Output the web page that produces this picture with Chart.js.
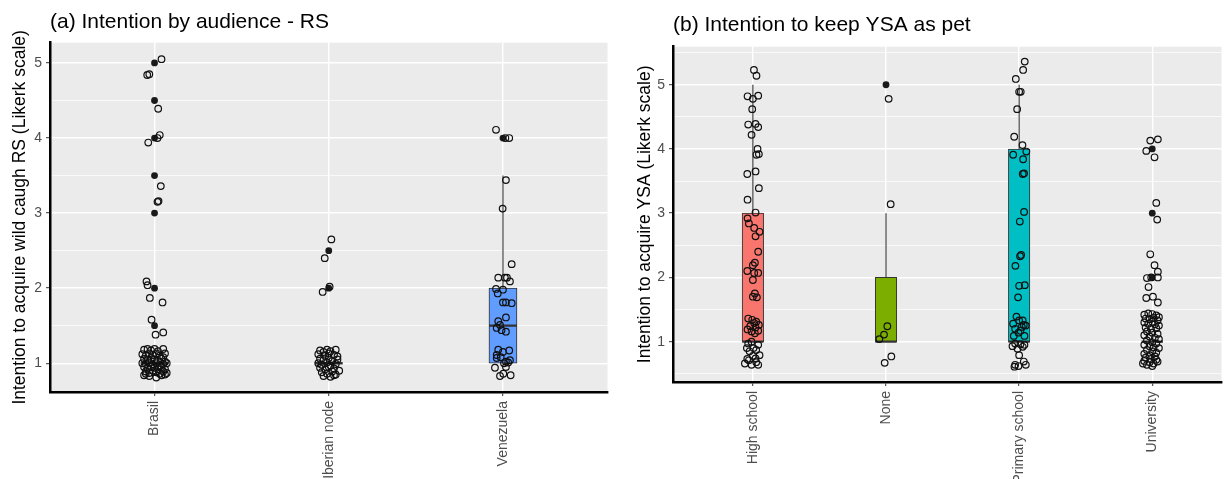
<!DOCTYPE html>
<html><head><meta charset="utf-8">
<script src="https://cdn.jsdelivr.net/npm/chart.js@4.4.0/dist/chart.umd.min.js"></script>
<style>
html,body{margin:0;padding:0;background:#fff;width:1226px;height:479px;overflow:hidden;}
canvas{position:absolute;top:0;}
</style></head><body>
<canvas id="ca" width="612" height="479" style="left:0px"></canvas>
<canvas id="cb" width="603" height="479" style="left:623px"></canvas>
<script>
// ---------- Panel (a): Intention by audience - RS ----------
const audienceCats = ['Brasil', 'Iberian node', 'Venezuela'];
const audienceQ1 = [1, 1, 1];
const audienceMedian = [1, 1, 1.5];
const audienceQ3 = [1, 1, 2];
const audienceWhiskerLo = [1, 1, 1];
const audienceWhiskerHi = [1, 1, 3.5];
const audienceOutliers = [
  [5, 4.5, 4, 3.5, 3, 2, 1.5],
  [2.5, 2],
  [4]
];
// jittered observations: [horizontal jitter (category units), value]
const brasilPts = [
  [0.04,5.05],[-0.042,4.84],[-0.03,4.85],[0.021,4.39],[0.03,4.04],[0.017,4.0],[-0.036,3.94],
  [0.036,3.36],[0.017,3.15],[0.023,3.16],[-0.046,2.09],[-0.04,2.04],[-0.027,1.87],[0.046,1.81],
  [-0.017,1.58],[0.006,1.38],[0.05,1.41],
  [-0.06,1.18],[-0.04,1.19],[-0.02,1.17],[0.0,1.19],[0.02,1.16],[0.05,1.19],[0.06,1.13],[-0.07,1.12],
  [-0.05,1.10],[-0.03,1.13],[-0.01,1.11],[0.01,1.13],[0.03,1.10],[0.05,1.08],[-0.06,1.06],[-0.04,1.04],
  [-0.02,1.07],[0.0,1.05],[0.02,1.03],[0.04,1.06],[0.06,1.02],[-0.07,1.0],[-0.05,0.99],[-0.03,1.01],
  [-0.01,0.98],[0.01,1.0],[0.03,0.97],[0.05,0.99],[0.07,1.0],[-0.06,0.95],[-0.04,0.93],[-0.02,0.96],
  [0.0,0.94],[0.02,0.92],[0.04,0.95],[0.06,0.92],[-0.05,0.89],[-0.03,0.87],[-0.01,0.9],[0.01,0.88],
  [0.03,0.86],[0.05,0.89],[0.07,0.87],[-0.06,0.84],[-0.03,0.83],[0.01,0.81],[0.04,0.84],[0.06,0.85],
  [-0.05,0.86],[0.02,0.96]
];
const iberianPts = [
  [0.015,2.65],[-0.023,2.40],[0.005,2.02],[-0.035,1.95],
  [-0.05,1.17],[-0.03,1.15],[-0.01,1.18],[0.01,1.16],[0.04,1.18],[-0.06,1.12],[-0.02,1.1],[0.0,1.13],
  [0.03,1.11],[0.05,1.09],[-0.05,1.06],[-0.03,1.04],[0.0,1.07],[0.02,1.03],[0.05,1.05],[-0.06,1.0],
  [-0.04,0.98],[-0.01,1.01],[0.01,0.97],[0.04,0.99],[-0.05,0.94],[-0.02,0.92],[0.0,0.95],[0.03,0.93],
  [0.06,0.9],[-0.04,0.88],[-0.01,0.86],[0.02,0.89],[0.04,0.85],[-0.03,0.83],[0.01,0.82],[0.03,0.84]
];
const venezuelaPts = [
  [-0.04,4.11],[0.014,4.0],[0.036,4.0],[0.017,3.44],[-0.002,3.06],[0.05,2.32],
  [-0.027,2.14],[0.011,2.14],[0.023,2.14],[0.04,2.09],[-0.04,1.99],[0.0,1.98],[-0.03,1.93],
  [0.0,1.81],[0.017,1.81],[0.05,1.8],
  [0.017,1.61],[-0.027,1.56],[-0.017,1.51],[-0.036,1.47],[-0.008,1.44],[0.017,1.42],
  [-0.027,1.18],[0.0,1.15],[0.036,1.17],[-0.036,1.11],[-0.013,1.08],[0.04,1.04],[0.017,1.02],
  [-0.036,1.07],[0.006,1.0],[0.03,1.01],[-0.046,0.94],[0.017,0.95],[-0.017,0.83],[0.002,0.86],[0.044,0.84]
];
const audiencePts = [brasilPts, iberianPts, venezuelaPts];
const audienceYTicks = [0.5, 1, 1.5, 2, 2.5, 3, 3.5, 4, 4.5, 5, 5.5];

// ---------- Panel (b): Intention to keep YSA as pet ----------
const educationCats = ['High school', 'None', 'Primary school', 'University'];
const educationQ1 = [1, 1, 1, 1];
const educationMedian = [1, 1, 1, 1];
const educationQ3 = [3, 2, 4, 1];
const educationWhiskerLo = [1, 1, 1, 1];
const educationWhiskerHi = [5, 3, 5, 1];
const educationOutliers = [
  [],
  [5],
  [],
  [4, 3, 2]
];
const highSchoolPts = [
  [0.008,5.23],[0.027,5.14],[-0.04,4.82],[0.04,4.83],[0.0,4.78],[-0.005,4.62],[-0.035,4.38],[0.02,4.39],
  [0.04,4.34],[-0.01,4.22],[0.035,4.0],[0.045,3.92],[0.027,3.91],[-0.042,3.61],[0.02,3.65],[0.045,3.39],
  [-0.04,3.21],[0.02,3.01],[-0.04,2.92],[-0.03,2.84],[0.01,2.77],[0.05,2.71],[0.02,2.64],[0.04,2.4],
  [0.015,2.23],[0.0,2.19],[-0.042,2.1],[0.01,2.07],[0.04,2.07],[0.0,1.96],[0.015,1.75],[0.0,1.7],
  [0.03,1.69],[-0.035,1.36],[-0.005,1.34],[0.025,1.31],[0.045,1.26],[0.01,1.29],[-0.02,1.24],[0.02,1.22],
  [-0.04,1.19],[0.04,1.17],[-0.01,1.16],[0.015,1.13],[-0.035,0.97],[-0.01,1.0],[0.04,0.95],[-0.045,0.9],
  [-0.025,0.85],[0.025,0.87],[0.05,0.79],[0.0,0.78],[-0.042,0.73],[0.02,0.74],[-0.06,0.66],[-0.01,0.64],
  [0.04,0.64],[-0.03,0.71],[0.005,0.9],[0.025,0.68]
];
const nonePts = [
  [0.02,4.78],[0.035,3.14],[0.01,1.24],[-0.015,1.11],[-0.05,1.04],[-0.01,0.67],[0.04,0.77]
];
const primaryPts = [
  [0.042,5.36],[0.03,5.23],[-0.025,5.09],[0.0,4.89],[0.012,4.89],[-0.015,4.62],[-0.037,4.19],[0.025,4.06],
  [-0.045,3.91],[0.054,3.96],[0.03,3.84],[0.037,3.62],[0.027,3.61],[0.037,3.02],[0.005,2.87],[0.015,2.35],
  [0.007,2.33],[-0.028,2.18],[0.0,1.87],[0.042,1.88],[-0.008,1.69],
  [-0.02,1.39],[0.0,1.33],[-0.045,1.28],[0.035,1.26],[0.02,1.23],[-0.03,1.2],[0.05,1.25],[-0.005,1.14],
  [0.04,1.09],[-0.04,1.09],[0.01,1.17],[0.027,1.33],
  [-0.03,0.97],[0.01,0.96],[0.04,0.95],[-0.05,0.93],[-0.012,0.89],[0.027,0.92],[0.0,0.79],[-0.03,0.64],
  [0.035,0.69],[0.05,0.64],[-0.005,0.62],[-0.035,0.61]
];
const universityPts = [
  [-0.015,4.13],[0.042,4.15],[-0.045,3.97],[0.017,3.87],[0.03,3.16],[0.037,2.9],[-0.015,2.36],[0.017,2.19],
  [0.042,2.09],[-0.04,1.99],[-0.008,2.0],[0.042,2.0],[-0.028,1.85],[-0.045,1.68],[0.005,1.70],[0.042,1.61],
  [-0.06,1.42],[-0.03,1.44],[0.0,1.43],[0.03,1.41],[0.05,1.38],[-0.05,1.36],[-0.02,1.35],[0.01,1.37],
  [0.04,1.33],[-0.06,1.3],[-0.03,1.28],[0.0,1.31],[0.02,1.27],[0.05,1.25],[-0.05,1.22],[-0.01,1.2],
  [0.03,1.21],[-0.04,1.16],[0.0,1.14],[0.04,1.12],[-0.06,1.1],[-0.02,1.08],[0.02,1.06],[0.05,1.04],
  [-0.04,1.02],[0.0,0.99],[0.03,0.97],[-0.06,0.95],[-0.02,0.93],[0.01,0.91],[0.05,0.9],[-0.04,0.87],
  [0.0,0.85],[0.03,0.83],[-0.06,0.81],[-0.02,0.79],[0.02,0.77],[-0.05,0.75],[-0.01,0.73],[0.03,0.72],
  [-0.06,0.7],[-0.02,0.68],[0.01,0.66],[-0.04,0.64],[0.0,0.62],[-0.07,0.66],[0.04,0.69]
];
const educationPts = [highSchoolPts, nonePts, primaryPts, universityPts];
const educationYTicks = [0.5, 1, 1.5, 2, 2.5, 3, 3.5, 4, 4.5, 5, 5.5];

// ---------- styling ----------
Chart.defaults.font.family = "'Liberation Sans', Arial, Helvetica, sans-serif";
const BOX_HALF = 0.08;

const panelBg = {
  id: 'panelBg',
  beforeDraw(chart) {
    const a = chart.chartArea, ctx = chart.ctx;
    ctx.save();
    ctx.fillStyle = '#EBEBEB';
    ctx.fillRect(a.left, a.top, a.right - a.left, a.bottom - a.top);
    ctx.restore();
  }
};

function buildPanel(p) {
  const ds = [];
  ds.push({
    type: 'scatter', order: 0,
    data: p.cats.flatMap((c, i) => p.pts[i].map(([dx, y]) => ({ x: i + dx, y }))),
    pointRadius: 3.3, pointHoverRadius: 3.3, pointBorderWidth: 1.2,
    borderColor: '#111', backgroundColor: 'rgba(0,0,0,0)'
  });
  ds.push({
    type: 'scatter', order: 1,
    data: p.cats.flatMap((c, i) => p.outliers[i].map(y => ({ x: i, y }))),
    pointRadius: 3.4, pointHoverRadius: 3.4, pointBorderWidth: 0,
    borderColor: '#000', backgroundColor: '#1a1a1a'
  });
  p.cats.forEach((c, i) => {
    ds.push({
      type: 'scatter', order: 2, showLine: true,
      data: [{ x: i - BOX_HALF, y: p.med[i] }, { x: i + BOX_HALF, y: p.med[i] }],
      borderColor: '#333', borderWidth: 2.3, pointRadius: 0
    });
  });
  ds.push({
    type: 'bar', order: 3,
    data: p.cats.map((c, i) => ({ x: i, y: [p.q1[i], p.q3[i]] })),
    backgroundColor: p.fills, borderColor: '#333', borderWidth: 1,
    borderSkipped: false, barThickness: p.boxPx, grouped: false
  });
  p.cats.forEach((c, i) => {
    ds.push({
      type: 'scatter', order: 4, showLine: true,
      data: [{ x: i, y: p.q3[i] }, { x: i, y: p.hi[i] }],
      borderColor: '#333', borderWidth: 1.1, pointRadius: 0
    });
    ds.push({
      type: 'scatter', order: 4, showLine: true,
      data: [{ x: i, y: p.q1[i] }, { x: i, y: p.lo[i] }],
      borderColor: '#333', borderWidth: 1.1, pointRadius: 0
    });
  });

  new Chart(document.getElementById(p.id), {
    type: 'scatter',
    data: { datasets: ds },
    plugins: [panelBg],
    options: {
      responsive: false, animation: false, events: [],
      layout: { padding: { left: 0, right: p.padRight, top: 0, bottom: 0 } },
      plugins: {
        legend: { display: false }, tooltip: { enabled: false },
        title: {
          display: true, text: p.title, align: 'start', fullSize: false,
          color: '#000', font: { size: 21, weight: 'normal' },
          padding: { top: p.titleTop, bottom: p.titleBottom }
        }
      },
      scales: {
        x: {
          type: 'linear', min: -0.6, max: p.xMax, offset: false,
          afterBuildTicks: s => { s.ticks = p.cats.map((c, i) => ({ value: i })); },
          afterFit: s => { s.height = p.xAxisH; },
          ticks: {
            autoSkip: false, minRotation: 90, maxRotation: 90, padding: 5,
            color: '#4D4D4D', font: { size: 14 },
            callback: v => p.cats[v]
          },
          grid: { offset: false, color: '#FFFFFF', lineWidth: 1.4, tickColor: '#333', tickLength: 4, tickWidth: 1 },
          border: { display: true, color: '#000', width: 2.5 }
        },
        y: {
          type: 'linear', min: p.yMin, max: p.yMax, beginAtZero: false,
          afterBuildTicks: s => { s.ticks = p.yTicks.filter(v => v >= p.yMin && v <= p.yMax).map(v => ({ value: v })); },
          afterFit: s => { s.width = 50; },
          ticks: {
            padding: 4, color: '#4D4D4D', font: { size: 14 },
            callback: v => Number.isInteger(v) ? String(v) : ''
          },
          grid: {
            color: '#FFFFFF',
            lineWidth: c => (c.tick && Number.isInteger(c.tick.value)) ? 1.4 : 0.7,
            tickColor: c => (c.tick && Number.isInteger(c.tick.value)) ? '#333' : 'rgba(0,0,0,0)',
            tickLength: 4, tickWidth: 1
          },
          border: { display: true, color: '#000', width: 2.5 },
          title: {
            display: true, text: p.yTitle, color: '#000',
            font: { size: 17.5, weight: 'normal' }, padding: { top: p.yTitlePad, bottom: 0 }
          }
        }
      }
    }
  });
}

buildPanel({
  id: 'ca', cats: audienceCats, pts: audiencePts, outliers: audienceOutliers,
  q1: audienceQ1, med: audienceMedian, q3: audienceQ3, lo: audienceWhiskerLo, hi: audienceWhiskerHi,
  fills: ['#F8766D', '#00BA38', '#619CFF'], boxPx: 28,
  yMin: 0.617, yMax: 5.27, yTicks: audienceYTicks, xMax: 2.6,
  title: '(a) Intention by audience - RS',
  yTitle: 'Intention to acquire wild caugh RS (Likerk scale)',
  padRight: 4, titleTop: 10, titleBottom: 7.5, xAxisH: 87, yTitlePad: 9.5
});
buildPanel({
  id: 'cb', cats: educationCats, pts: educationPts, outliers: educationOutliers,
  q1: educationQ1, med: educationMedian, q3: educationQ3, lo: educationWhiskerLo, hi: educationWhiskerHi,
  fills: ['#F8766D', '#7CAE00', '#00BFC4', '#C77CFF'], boxPx: 21.5,
  yMin: 0.372, yMax: 5.592, yTicks: educationYTicks, xMax: 3.52,
  title: '(b) Intention to keep YSA as pet',
  yTitle: 'Intention to acquire YSA (Likerk scale)',
  padRight: 0, titleTop: 13, titleBottom: 8.5, xAxisH: 97, yTitlePad: 11.5
});
</script></body></html>
